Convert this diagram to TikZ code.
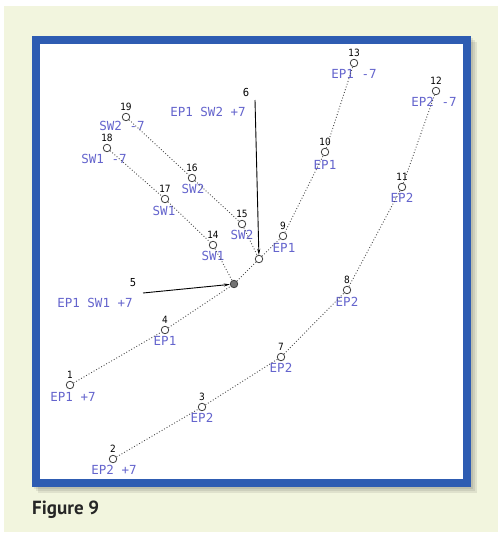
\documentclass[tikz,border=0pt]{standalone}
\usepackage{fontspec}
\usetikzlibrary{arrows.meta}
\newfontfamily\tagfont{DejaVu Sans Mono}
\newfontfamily\numfont{DejaVu Sans Condensed}
\newfontfamily\capfont{PT Sans}
\definecolor{cream}{RGB}{242,245,222}
\definecolor{frameblue}{RGB}{46,92,178}
\definecolor{tagblue}{RGB}{100,100,205}
\tikzset{
    pt/.style={circle,draw=black!75,line width=0.8pt,minimum size=7.5pt,inner sep=0pt},
    hub/.style={pt,fill=black!55},
    num/.style={font=\numfont\fontsize{10}{10}\selectfont,inner sep=0pt,text=black},
    tag/.style={font=\tagfont\fontsize{12.5}{12.5}\selectfont,inner sep=0pt,text=tagblue},
    trace/.style={dotted,line width=0.9pt,draw=black!70},
    lead/.style={line width=0.9pt,-{Stealth[length=6pt,width=3pt]}}
}
\begin{document}
\begin{tikzpicture}[x=1pt,y=-1pt]
    \useasboundingbox (0,0) rectangle (502,536);
    % background
    \fill[cream] (4,6) rectangle (498,532);
    % shadow
    \foreach \s in {2,4,6} {
        \fill[black,opacity=0.08] (32+\s,36+\s) rectangle (471+\s,487+\s);
    }
    % frame
    \draw[frameblue,line width=8pt,fill=white] (36,40) rectangle (467,483);
    % points
    \foreach \i/\x/\y/\t/\tx/\ty in {
        1/70/385/EP1 +7/73/397, 2/113/459/EP2 +7/114/470,
        3/202/407/EP2/202/418, 4/165/330/EP1/165/341,
        7/281/357/EP2/281/368, 8/347/290/EP2/347/302,
        9/283/236/EP1/284/248, 10/325/152/EP1/325/165,
        11/402/187/EP2/402/198, 12/436/91/EP2 -7/434/102,
        13/354/63/EP1 -7/354/74, 14/213/245/SW1/213/256,
        15/242/224/SW2/242/235, 16/192/178/SW2/193/189,
        17/165/199/SW1/164/211, 18/107/148/SW1 -7/104/159,
        19/126/117/SW2 -7/122/126} {
        \node[pt] (p\i) at (\x,\y) {};
        \node[num] (n\i) at (\x,\y-10) {\i};
        \node[tag] (t\i) at (\tx,\ty) {\t};
    }
    % junctions
    \node[hub] (h5) at (234,284) {};
    \node[pt] (h6) at (259,259) {};
    \coordinate (c5) at (143,293);
    \coordinate (c6) at (255,100);
    \node[num,font=\numfont\fontsize{11}{11}\selectfont] (n5) at (133,283) {5};
    \node[num,font=\numfont\fontsize{11}{11}\selectfont] (n6) at (246,92) {6};
    \node[tag] (t5) at (95,303) {EP1 SW1 +7};
    \node[tag] (t6) at (208,112) {EP1 SW2 +7};
    \draw[lead] (c5) -- (h5);
    \draw[lead] (c6) -- (h6);
    % traces
    \draw[trace] (p1) -- (p4) -- (h5) -- (h6) -- (p9) -- (p10) -- (p13);
    \draw[trace] (p2) -- (p3) -- (p7) -- (p8) -- (p11) -- (p12);
    \draw[trace] (p18) -- (p17) -- (p14) -- (h5);
    \draw[trace] (p19) -- (p16) -- (p15) -- (h6);
    % caption
    \node[anchor=base west,inner sep=0pt,font=\capfont\bfseries\fontsize{19}{19}\selectfont,text=black!85] (cap) at (32,514) {Figure 9};
\end{tikzpicture}
\end{document}
